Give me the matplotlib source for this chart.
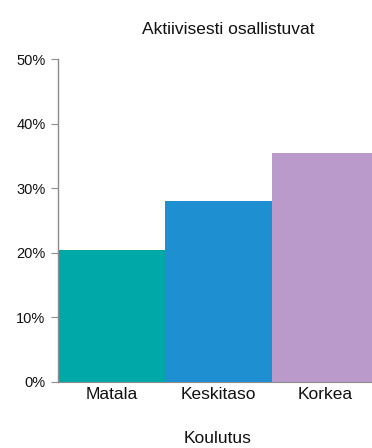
import matplotlib

matplotlib.use("Agg")
import matplotlib.pyplot as plt
from matplotlib.ticker import PercentFormatter

categories = ["Matala", "Keskitaso", "Korkea"]
values = [20.4, 28.0, 35.5]
colors = ["#00A9A8", "#1E8FD0", "#BA9ACA"]

W, H = 372, 448
fig = plt.figure(figsize=(W / 100, H / 100), dpi=100)
plt.rcParams["font.family"] = ["Liberation Sans", "DejaVu Sans"]

left, right, top, bottom = 58, 379, 59.5, 381.7
ax = fig.add_axes([left / W, 1 - bottom / H, (right - left) / W, (bottom - top) / H])

x = range(len(categories))
ax.bar(x, values, width=1.0, color=colors, zorder=2)
ax.set_xlim(-0.5, 2.5)
ax.set_ylim(0, 50)
ax.set_yticks([0, 10, 20, 30, 40, 50])
ax.yaxis.set_major_formatter(PercentFormatter(decimals=0))
ax.set_xticks(list(x))
ax.set_xticklabels(categories, fontsize=12.5, color="#111111")

for s in ["top", "right"]:
    ax.spines[s].set_visible(False)
ax.spines["left"].set_color("#8c8c8c")
ax.spines["bottom"].set_color("#8c8c8c")
ax.spines["left"].set_linewidth(1.0)
ax.tick_params(axis="y", length=5, color="#8c8c8c", labelsize=10.5, labelcolor="#111111", pad=4)
ax.tick_params(axis="x", length=0, pad=4)

fig.text(228 / W, 1 - 30 / H, "Aktiivisesti osallistuvat", ha="center", va="center",
         fontsize=12.5, color="#111111")
fig.text(218 / W, 1 - 438 / H, "Koulutus", ha="center", va="center",
         fontsize=12.5, color="#111111")

fig.savefig("out.png", dpi=100)
